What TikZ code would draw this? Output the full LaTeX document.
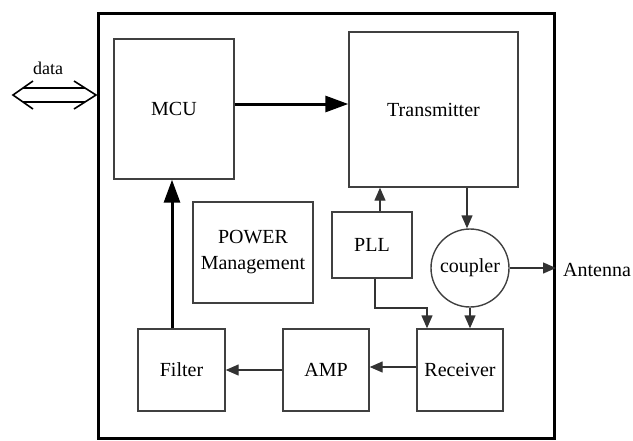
\documentclass[tikz,border=0pt]{standalone}
\usepackage{fontspec}
\setmainfont{Liberation Serif}
\usetikzlibrary{arrows.meta,calc}
\begin{document}
\begin{tikzpicture}[x=1pt,y=-1pt,
  blk/.style={draw=black!75, line width=1.4pt, inner sep=0pt, font=\fontsize{20}{26}\selectfont, align=center},
  thinarrow/.style={draw=black!80, line width=1.4pt, -{Triangle[length=13pt,width=11pt]}},
  thickarrow/.style={draw=black, line width=3pt, -{Triangle[length=23pt,width=16pt]}},
  lbl/.style={font=\fontsize{20}{24}\selectfont, inner sep=0pt}]
\useasboundingbox (0,0) rectangle (633,440);
% outer frame
\node[draw, line width=3pt, minimum width=456pt, minimum height=425pt, inner sep=0pt, anchor=north west] (outer) at (97,12) {};
% blocks
\node[blk, minimum width=120pt, minimum height=140pt] (MCU) at (174,109) {MCU};
\node[blk, minimum width=169pt, minimum height=155pt] (TX) at (433.5,109.5) {Transmitter};
\node[blk, minimum width=120pt, minimum height=101pt] (PWR) at (253,252.5) {POWER\\Management};
\node[blk, minimum width=80pt, minimum height=66pt] (PLL) at (372,245) {PLL};
\node[blk, circle, minimum size=78pt] (CPL) at (470,268) {coupler};
\node[blk, minimum width=86pt, minimum height=82pt] (RX) at (460,370) {Receiver};
\node[blk, minimum width=86pt, minimum height=82pt] (AMP) at (326,370) {AMP};
\node[blk, minimum width=87pt, minimum height=82pt] (FLT) at (181.5,370) {Filter};
% labels
\node[lbl, anchor=west] (ant) at (563,270) {Antenna};
\node[lbl, font=\fontsize{18}{22}\selectfont] (datalbl) at (48,68) {data};
% thick arrows
\draw[thickarrow] ([yshift=5pt]MCU.east) -- ([yshift=5pt]MCU.east -| TX.west);
\draw[thickarrow] ([xshift=-9.5pt]FLT.north) -- ([xshift=-9.5pt]FLT.north |- MCU.south);
% thin arrows
\draw[thinarrow] ([xshift=8pt]PLL.north) -- ([xshift=8pt]PLL.north |- TX.south);
\draw[thinarrow] ([xshift=-3pt]CPL.north |- TX.south) -- ([xshift=-3pt]CPL.north);
\draw[thinarrow] (CPL.east) -- (CPL.east -| outer.east);
\draw[thinarrow] (CPL.south) -- (CPL.south |- RX.north);
\coordinate (pllbend) at (427,308);
\draw[thinarrow] ([xshift=3pt]PLL.south) |- (pllbend) -- (pllbend |- RX.north);
\draw[thinarrow] ([yshift=3pt]RX.west) -- ([yshift=3pt]RX.west -| AMP.east);
\draw[thinarrow] (AMP.west) -- (FLT.east);
% data double arrow
\coordinate (dataL) at (13,95);
\coordinate (dataR) at ($(outer.north west)+(-1,83)$);
\draw[line width=1.6pt, line join=miter] ($(dataL)+(20,-14)$) -- (dataL) -- ($(dataL)+(20,14)$);
\draw[line width=1.6pt, line join=miter] ($(dataR)+(-22,-14)$) -- (dataR) -- ($(dataR)+(-22,14)$);
\draw[line width=1.6pt] ($(dataL)+(10,-7)$) -- ($(dataR)+(-11,-7)$);
\draw[line width=1.6pt] ($(dataL)+(10,7)$) -- ($(dataR)+(-11,7)$);
\end{tikzpicture}
\end{document}
